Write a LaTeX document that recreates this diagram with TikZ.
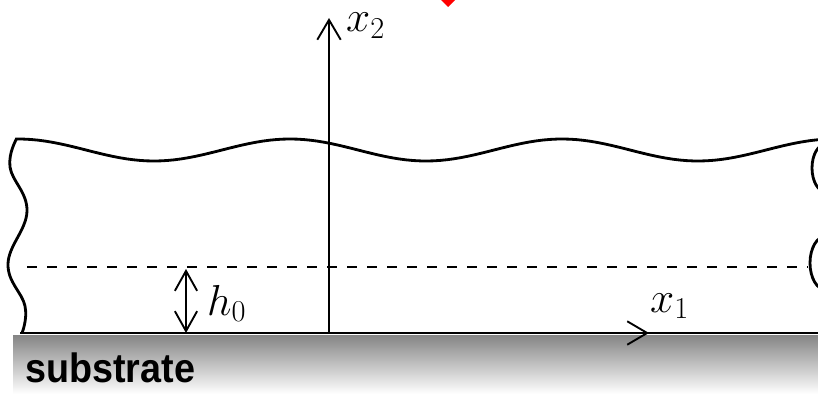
\RequirePackage{fix-cm}
\documentclass[tikz,border=0pt]{standalone}
\usepackage{fontspec}
\setsansfont{Liberation Sans}
\usetikzlibrary{arrows.meta}

\begin{document}
\begin{tikzpicture}[
    x=0.03cm, y=-0.03cm,
    surface/.style={
        line width=2.4pt,
        line join=round,
        black
    },
    axis/.style={
        -{Straight Barb[length=17pt, width=20pt, line width=1.6pt]},
        line width=1.6pt
    },
    gap/.style={
        {Straight Barb[length=17pt, width=19pt, line width=1.6pt]}-{Straight Barb[length=17pt, width=19pt, line width=1.6pt]},
        line width=1.6pt
    },
    refline/.style={
        line width=1.7pt,
        dash pattern=on 0.3cm off 0.3cm
    },
    axislabel/.style={
        font=\fontsize{37}{37}\selectfont,
        inner sep=0pt
    },
    sublabel/.style={
        font=\sffamily\bfseries\fontsize{35}{35}\selectfont,
        inner sep=0pt,
        xscale=0.92
    }
]

\useasboundingbox (0,0) rectangle (818,395);
\clip (0,0) rectangle (818,395);

% --- Substrate --------------------------------------------------------------
\shade[top color=black!48, bottom color=white] (13,335) rectangle (830,394);
\coordinate (sl) at (20,333);
\coordinate (sr) at (830,333);
\draw[line width=2.4pt] (sl) -- (sr);
\node[sublabel, anchor=south west] (sub) at (25,383) {substrate};

% --- Film: free surface and lateral boundaries -----------------------------
\draw[surface] plot[domain=17:830, samples=120]
    (\x, {150 - 11*cos((\x-290)/272*360)});
\draw[surface] plot[smooth, tension=0.7] coordinates
    {(17,138) (10,167) (27,211) (8,264) (25,306) (22,333)};
\draw[surface] (826,168) ellipse [x radius=14, y radius=24];
\draw[surface] (826,263) ellipse [x radius=16, y radius=27];

% --- Reference level h0 -----------------------------------------------------
\coordinate (dl) at (27,267);
\coordinate (dr) at (808,267);
\draw[refline] (dl) -- (dr);

\coordinate (hbot) at (186,333);
\coordinate (htop) at (186,269);
\draw[gap] (hbot) -- (htop);
\node[axislabel, anchor=base west] (h0) at (207,315) {$h_0$};

% --- Axes -------------------------------------------------------------------
\coordinate (O) at (329,333);
\coordinate (x1tip) at (649,333);
\coordinate (x2tip) at (329,18);
\draw[axis] (O) -- (x2tip);
\draw[axis] (O) -- (x1tip);
\node[axislabel, anchor=base west] (x2lab) at (346,32) {$x_2$};
\node[axislabel, anchor=base west] (x1lab) at (650,312) {$x_1$};

% --- Marker (cut at top edge) ----------------------------------------------
\fill[red] (441,0) -- (448,7) -- (455,0) -- (448,-7) -- cycle;

\end{tikzpicture}
\end{document}
